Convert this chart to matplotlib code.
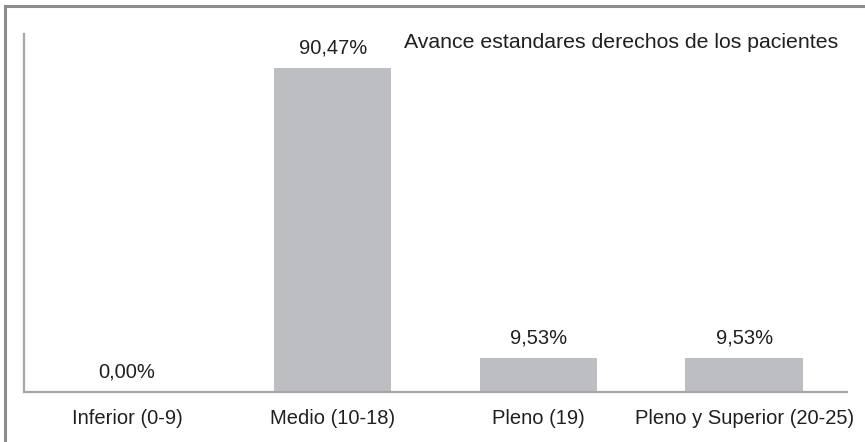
"""Bar chart — avance estandares derechos de los pacientes."""

import matplotlib.pyplot as plt
from matplotlib.patches import Rectangle

categories = ["Inferior (0-9)", "Medio (10-18)", "Pleno (19)", "Pleno y Superior (20-25)"]
values = [0.00, 90.47, 9.53, 9.53]
value_labels = ["0,00%", "90,47%", "9,53%", "9,53%"]
title = "Avance estandares derechos de los pacientes"

W, H = 865, 442
plt.rcParams["font.family"] = ["Liberation Sans", "DejaVu Sans"]
text_color = "#231F20"

fig = plt.figure(figsize=(W / 100, H / 100), dpi=100)
# figure frame (right and bottom edges fall outside the image)
fig.patches.append(Rectangle((5 / W, -0.1), 1.1, 1.1 - 6 / H, transform=fig.transFigure,
                             fill=False, edgecolor="#8C8C8C", linewidth=2.2))

left, right, top, bottom = 24, 847, 34, 392
ax = fig.add_axes([left / W, 1 - bottom / H, (right - left) / W, (bottom - top) / H])

x = range(len(categories))
ax.bar(x, values, width=0.57, color="#BDBEC2")
for xi, v, lab in zip(x, values, value_labels):
    ax.text(xi, v + 3.0, lab, ha="center", va="bottom", fontsize=14.5, color=text_color)

ax.set_xlim(-0.5, len(categories) - 0.5)
ax.set_ylim(0, 100)
ax.set_xticks(list(x))
ax.set_xticklabels(categories, fontsize=14.5, color=text_color)
ax.get_xticklabels()[-1].set_x(len(categories) - 1.03)
ax.tick_params(axis="x", length=0, pad=12)
ax.set_yticks([])
for side in ("top", "right"):
    ax.spines[side].set_visible(False)
for side in ("left", "bottom"):
    ax.spines[side].set_color("#A6A6A6")
    ax.spines[side].set_linewidth(1.6)

fig.text(838 / W, 1 - 42 / H, title, ha="right", va="center", fontsize=15.3, color=text_color)

fig.savefig("out.png", dpi=100)
